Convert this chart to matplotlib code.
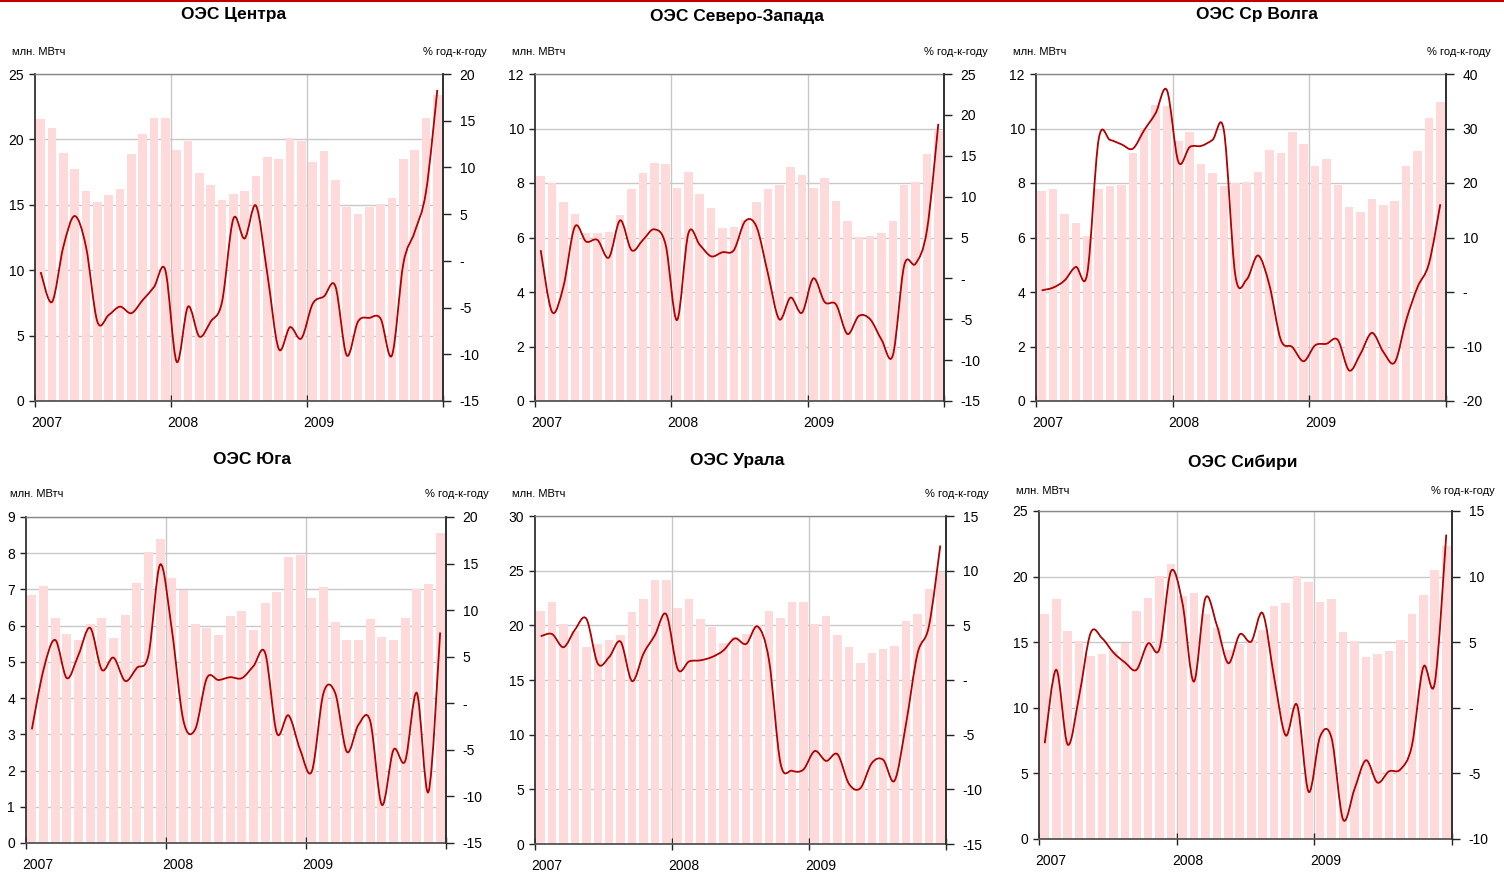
import matplotlib
matplotlib.use('Agg')
import matplotlib.pyplot as plt
import numpy as np
from matplotlib.lines import Line2D
from matplotlib.patches import PathPatch
from matplotlib.path import Path
from matplotlib.ticker import FuncFormatter, MultipleLocator

plt.rcParams['font.family'] = ['Liberation Sans', 'DejaVu Sans']

BAR_COLOR = '#FFDADA'
LINE_COLOR = '#B00000'

YEARS = ['2007', '2008', '2009']
UNIT_LEFT = 'млн. МВтч'
UNIT_RIGHT = '% год-к-году'

# monthly consumption, Jan 2007 .. Dec 2009 (mln MWh)
center_vol = [21.56, 20.87, 18.93, 17.70, 16.05, 15.20, 15.74, 16.20, 18.88, 20.40, 21.63, 21.63,
              19.18, 19.90, 17.42, 16.50, 15.40, 15.82, 16.05, 17.19, 18.65, 18.50, 20.10, 19.90,
              18.30, 19.08, 16.90, 14.82, 14.29, 14.82, 15.05, 15.50, 18.50, 19.18, 21.63, 23.39]
nw_vol = [8.25, 8.00, 7.30, 6.86, 6.16, 6.16, 6.20, 6.81, 7.78, 8.36, 8.73, 8.69,
          7.81, 8.40, 7.59, 7.08, 6.34, 6.38, 6.64, 7.30, 7.78, 7.92, 8.58, 8.29,
          7.81, 8.18, 7.33, 6.60, 6.01, 6.05, 6.16, 6.60, 7.92, 8.03, 9.06, 9.90]
volga_vol = [7.70, 7.78, 6.86, 6.53, 6.05, 7.78, 7.89, 7.92, 9.10, 10.02, 10.86, 10.82,
             9.54, 9.87, 8.69, 8.36, 7.89, 8.00, 8.03, 8.40, 9.21, 9.10, 9.87, 9.43,
             8.62, 8.88, 7.92, 7.11, 6.93, 7.41, 7.19, 7.33, 8.62, 9.17, 10.38, 10.97]
south_vol = [6.85, 7.10, 6.22, 5.78, 5.61, 6.05, 6.22, 5.67, 6.30, 7.18, 8.04, 8.40,
             7.32, 6.99, 6.05, 5.94, 5.75, 6.27, 6.41, 5.89, 6.63, 6.94, 7.90, 7.96,
             6.77, 7.07, 6.11, 5.61, 5.61, 6.19, 5.69, 5.61, 6.22, 7.02, 7.16, 8.56]
ural_vol = [21.3, 22.1, 20.1, 19.5, 18.0, 18.3, 18.66, 19.1, 21.2, 22.4, 24.15, 24.15,
            21.6, 22.4, 20.6, 19.85, 18.4, 18.9, 19.2, 20.0, 21.3, 20.7, 22.1, 22.1,
            20.1, 20.85, 19.1, 18.0, 16.55, 17.47, 17.84, 18.1, 20.4, 21.0, 23.3, 24.9]
siberia_vol = [17.16, 18.30, 15.86, 15.10, 13.96, 14.10, 14.34, 14.95, 17.39, 18.38, 20.05, 20.96,
               18.53, 18.76, 17.16, 16.09, 14.40, 14.87, 15.20, 15.94, 17.77, 18.00, 20.05, 19.60,
               18.07, 18.30, 15.79, 15.10, 13.88, 14.10, 14.34, 15.20, 17.16, 18.60, 20.50, 22.30]

# year-on-year change (%)
center_yoy = [-1.2, -4.4, 1.5, 4.8, 1.5, -6.5, -5.8, -4.9, -5.6, -4.2, -2.8, -1.0,
              -10.8, -4.9, -8.1, -6.5, -4.4, 4.5, 2.4, 5.9, -1.4, -9.4, -7.1, -8.3,
              -4.6, -3.8, -2.7, -10.1, -6.5, -6.1, -6.2, -10.1, -0.3, 3.1, 7.4, 18.3]
nw_yoy = [3.45, -4.1, -1.0, 6.3, 4.5, 4.7, 2.55, 7.1, 3.45, 4.7, 6.0, 4.1,
          -5.1, 5.5, 4.1, 2.7, 3.2, 3.45, 7.0, 6.3, 0.6, -5.0, -2.35, -4.2,
          0.0, -2.9, -3.2, -6.8, -4.6, -5.0, -7.5, -9.4, 1.6, 1.8, 5.9, 18.9]
volga_yoy = [0.3, 0.8, 2.1, 4.6, 3.4, 28.0, 27.9, 27.1, 26.3, 29.7, 32.8, 37.0,
             23.9, 26.6, 26.8, 27.9, 29.6, 3.1, 2.3, 6.7, 1.2, -8.8, -10.1, -12.7,
             -9.8, -9.5, -8.8, -14.4, -11.3, -7.5, -11.0, -12.9, -5.2, 0.9, 5.2, 16.1]
south_yoy = [-2.8, 3.6, 6.8, 2.7, 5.2, 8.1, 3.6, 4.9, 2.4, 3.8, 5.2, 14.9,
             7.9, -1.9, -2.8, 2.7, 2.5, 2.8, 2.7, 4.0, 5.4, -3.2, -1.3, -5.0,
             -7.3, 1.1, 1.1, -5.2, -2.3, -1.9, -10.9, -5.0, -6.2, 1.1, -9.5, 7.6]
ural_yoy = [4.0, 4.2, 3.0, 4.6, 5.6, 1.5, 2.1, 3.5, -0.1, 2.4, 4.1, 6.0,
            1.0, 1.7, 1.8, 2.1, 2.7, 3.8, 3.3, 4.9, 1.8, -7.6, -8.3, -8.2,
            -6.5, -7.4, -6.8, -9.5, -9.9, -7.6, -7.3, -9.2, -4.0, 2.4, 4.9, 12.3]
siberia_yoy = [-2.7, 2.9, -2.8, 0.9, 5.7, 5.3, 4.2, 3.45, 2.9, 4.9, 4.5, 10.4,
               8.0, 2.0, 8.35, 6.3, 3.4, 5.6, 5.05, 7.2, 2.3, -2.1, 0.2, -6.4,
               -2.2, -2.3, -8.5, -6.2, -4.0, -5.7, -4.85, -4.7, -2.9, 3.1, 1.9, 13.2]

W, H = 1504, 874

# (title, volumes, yoy, left range/step, right range/step,
#  axes box in px (l, t, r, b), title centre x/y, unit label y, unit x left/right)
panels = [
    ('ОЭС Центра', center_vol, center_yoy, (0, 25, 5), (-15, 20, 5),
     (35, 74, 443, 401), (234, 15), 52, (12, 487)),
    ('ОЭС Северо-Запада', nw_vol, nw_yoy, (0, 12, 2), (-15, 25, 5),
     (535, 74, 944, 401), (737, 16), 52, (512, 988)),
    ('ОЭС Ср Волга', volga_vol, volga_yoy, (0, 12, 2), (-20, 40, 10),
     (1036, 74, 1446, 401), (1257, 15), 52, (1013, 1491)),
    ('ОЭС Юга', south_vol, south_yoy, (0, 9, 1), (-15, 20, 5),
     (26, 517, 446, 843), (252, 459), 494, (10, 489)),
    ('ОЭС Урала', ural_vol, ural_yoy, (0, 30, 5), (-15, 15, 5),
     (535, 516, 946, 844), (737, 461), 494, (512, 989)),
    ('ОЭС Сибири', siberia_vol, siberia_yoy, (0, 25, 5), (-10, 15, 5),
     (1039, 511, 1452, 839), (1243, 462), 491, (1016, 1495)),
]


def smooth_path(x, y):
    # Catmull-Rom style cubic Bezier through each monthly point
    pts = np.column_stack([x, y]).astype(float)
    n = len(pts)
    verts = [pts[0]]
    codes = [Path.MOVETO]
    for i in range(n - 1):
        p0 = pts[max(i - 1, 0)]
        p1 = pts[i]
        p2 = pts[i + 1]
        p3 = pts[min(i + 2, n - 1)]
        verts += [p1 + (p2 - p0) / 6, p2 - (p3 - p1) / 6, p2]
        codes += [Path.CURVE4] * 3
    return Path(verts, codes)


def dash_zero(v, pos):
    if abs(v) < 1e-9:
        return '-'
    return '%d' % v


fig = plt.figure(figsize=(W / 100, H / 100), dpi=100)
fig.add_artist(Line2D([0, 1], [1 - 1 / H, 1 - 1 / H], color='#C00000', lw=1.5,
                      transform=fig.transFigure))

for (title, vol, yoy, lrng, rrng, box, tpos, uy, ux) in panels:
    l, t, r, b = box
    ax = fig.add_axes([l / W, 1 - b / H, (r - l) / W, (b - t) / H])
    x = np.arange(len(vol))
    ax.bar(x, vol, width=0.75, color=BAR_COLOR, zorder=2)
    ax.set_xlim(-0.5, len(vol) - 0.5)
    ax.set_ylim(lrng[0], lrng[1])
    ax.yaxis.set_major_locator(MultipleLocator(lrng[2]))
    ax.set_axisbelow(True)
    ax.grid(axis='y', color='#C8C8C8', lw=1.0, zorder=0)

    # year boundaries and year labels under January bars
    bounds = [-0.5, 11.5, 23.5, 35.5]
    ax.set_xticks(bounds)
    ax.set_xticklabels([])
    ax.set_xticks([0.5, 12.5, 24.5], minor=True)
    ax.set_xticklabels(YEARS, minor=True)
    for xb in bounds[1:3]:
        ax.axvline(xb, color='#C8C8C8', lw=1.0, zorder=0)
    ax.tick_params(axis='x', which='major', direction='inout', length=8,
                   width=1, color='#222222')
    ax.tick_params(axis='x', which='minor', length=0, pad=10.5, labelsize=10)
    ax.tick_params(axis='y', direction='out', length=4, width=1,
                   color='#222222', pad=4, labelsize=10)

    for side in ('left', 'right'):
        ax.spines[side].set_color('#333333')
        ax.spines[side].set_linewidth(1.3)
    ax.spines['bottom'].set_color('#555555')
    ax.spines['bottom'].set_linewidth(1.3)
    ax.spines['top'].set_color('#888888')
    ax.spines['top'].set_linewidth(1.0)

    ax2 = ax.twinx()
    ax2.set_ylim(rrng[0], rrng[1])
    ax2.yaxis.set_major_locator(MultipleLocator(rrng[2]))
    ax2.yaxis.set_major_formatter(FuncFormatter(dash_zero))
    ax2.tick_params(axis='y', direction='out', length=6, width=1,
                    color='#222222', pad=6, labelsize=10)
    ax2.spines['right'].set_color('#333333')
    ax2.spines['right'].set_linewidth(1.3)
    for side in ('left', 'top', 'bottom'):
        ax2.spines[side].set_visible(False)
    ax2.add_patch(PathPatch(smooth_path(x, yoy), facecolor='none',
                            edgecolor=LINE_COLOR, lw=1.3, zorder=3))

    fig.text(tpos[0] / W, 1 - tpos[1] / H, title, ha='center', va='center',
             fontsize=12.5, fontweight='bold')
    fig.text(ux[0] / W, 1 - uy / H, UNIT_LEFT, ha='left', va='center', fontsize=8)
    fig.text(ux[1] / W, 1 - uy / H, UNIT_RIGHT, ha='right', va='center', fontsize=8)

fig.savefig('out.png', dpi=100)
